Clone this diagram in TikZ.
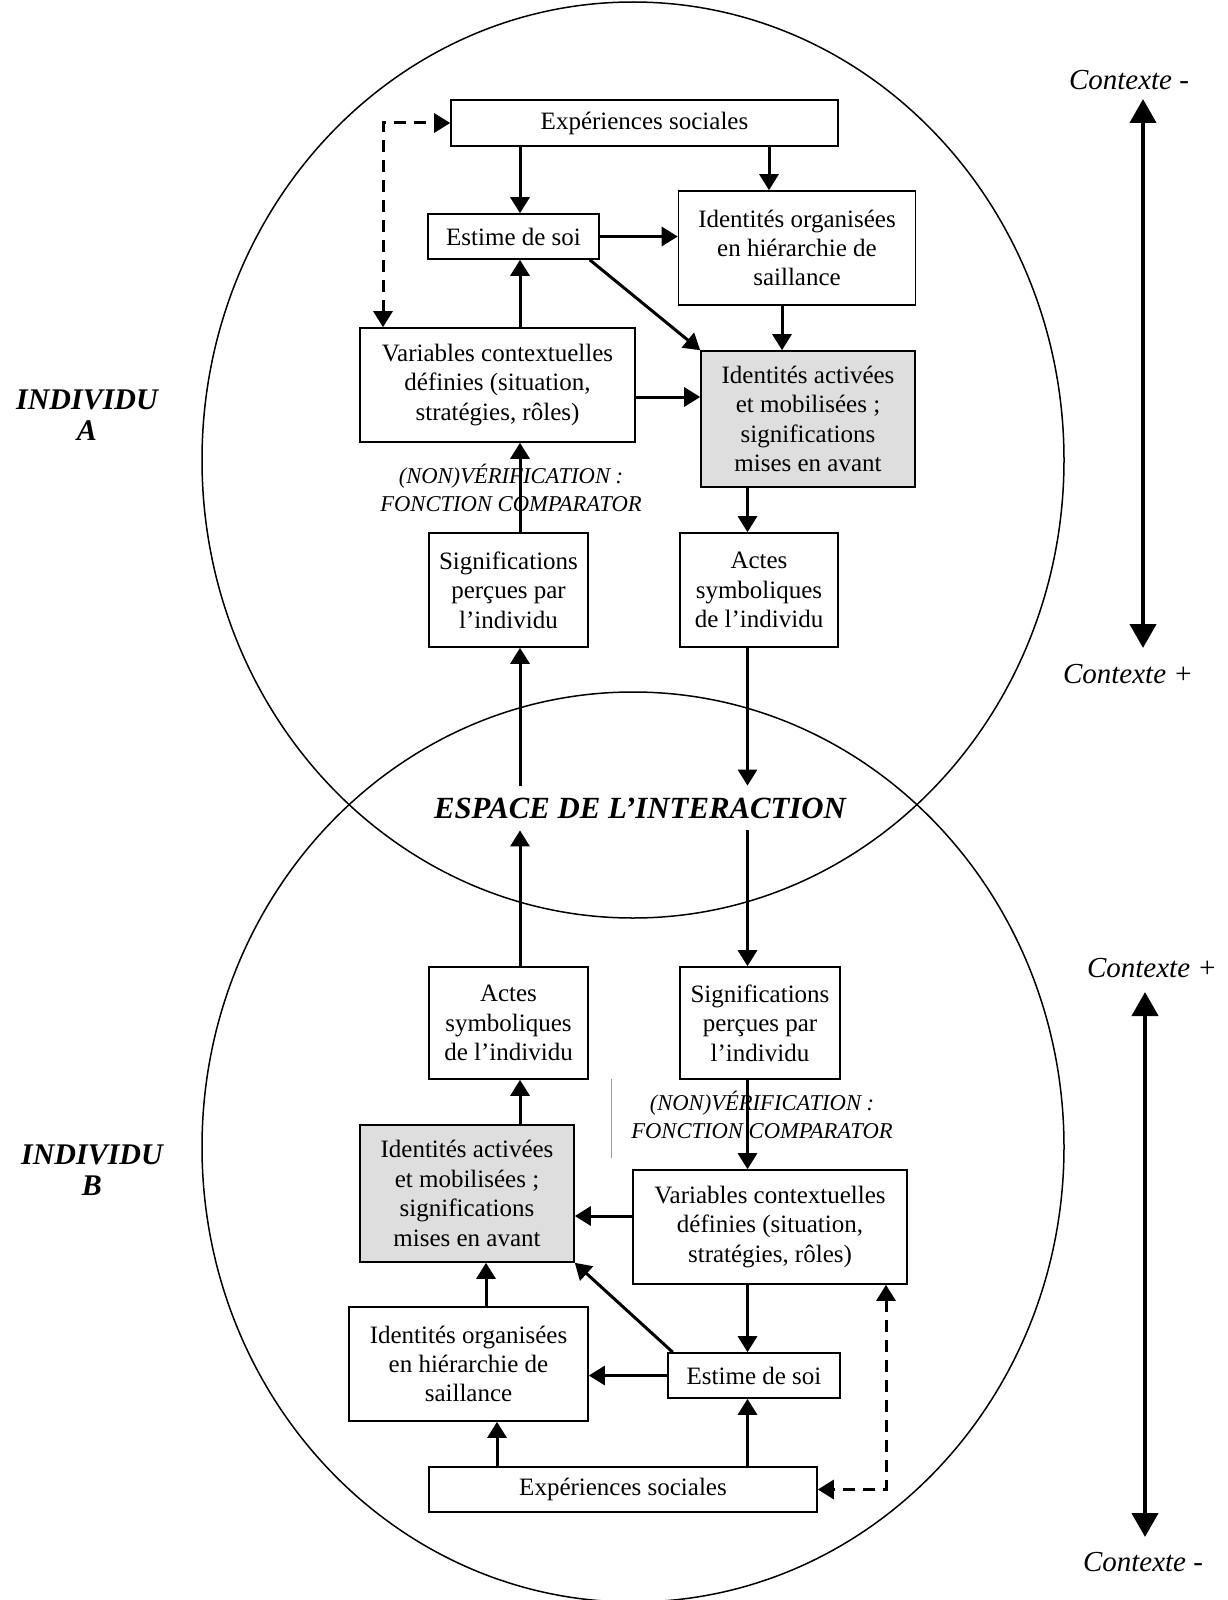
\documentclass[tikz,border=0pt]{standalone}
\usepackage{fontspec}
\setmainfont{Liberation Serif}
\usetikzlibrary{arrows.meta}

\begin{document}
\begin{tikzpicture}[x=0.5pt,y=-0.5pt,
    box/.style={draw,fill=white,line width=0.8pt,align=center,inner sep=0pt,font=\fontsize{12.5}{14.7}\selectfont},
    shaded/.style={box,fill=black!13},
    arr/.style={line width=1.5pt,-{Triangle[length=8pt,width=9.5pt]}},
    dasharr/.style={line width=1.5pt,dash pattern=on 6pt off 4pt,{Triangle[length=8pt,width=9.5pt]}-{Triangle[length=8pt,width=9.5pt]}},
    bigarr/.style={line width=2.2pt,{Triangle[length=12pt,width=13pt]}-{Triangle[length=12pt,width=13pt]}},
    note/.style={font=\fontsize{11.3}{14}\selectfont\itshape,align=center,inner sep=0pt},
    who/.style={font=\fontsize{15}{15.5}\selectfont\bfseries\itshape,align=center,inner sep=0pt},
    ctx/.style={font=\fontsize{14.5}{16}\selectfont\itshape,inner sep=0pt}]
  \useasboundingbox (0,0) rectangle (1227,1600);

  % the two individuals
  \draw[line width=0.75pt] (633,460) ellipse [x radius=215.5pt, y radius=229pt];
  \draw[line width=0.75pt] (633,1147) ellipse [x radius=215.5pt, y radius=227.5pt];

  % individu A
  \node[box,minimum width=193.5pt,minimum height=23pt] (expA) at (644.5,123) {Expériences sociales};
  \node[box,minimum width=85.5pt,minimum height=22.5pt] (estA) at (513.5,236.5) {Estime de soi};
  \node[box,minimum width=118.5pt,minimum height=57pt] (idoA) at (797,248) {Identités organisées\\en hiérarchie de\\saillance};
  \node[box,minimum width=137.5pt,minimum height=57pt] (varA) at (497.5,385) {Variables contextuelles\\définies (situation,\\stratégies, rôles)};
  \node[shaded,minimum width=107pt,minimum height=68pt] (idaA) at (808,419) {Identités activées\\et mobilisées ;\\significations\\mises en avant};
  \node[box,minimum width=79.5pt,minimum height=57pt] (sigA) at (508.5,590) {Significations\\perçues par\\l’individu};
  \node[box,minimum width=79pt,minimum height=57pt] (symA) at (759,590) {Actes\\symboliques\\de l’individu};
  \node[note] (verA) at (511,488) {(NON)VÉRIFICATION :\\FONCTION COMPARATOR};

  \node[who,font=\fontsize{15.4}{16}\selectfont\bfseries\itshape,minimum height=22pt] (esp) at (640,808) {ESPACE DE L’INTERACTION};

  % individu B
  \node[box,minimum width=79.5pt,minimum height=56pt] (symB) at (508.5,1023) {Actes\\symboliques\\de l’individu};
  \node[box,minimum width=80pt,minimum height=56pt] (sigB) at (760,1023) {Significations\\perçues par\\l’individu};
  \node[note] (verB) at (762,1115) {(NON)VÉRIFICATION :\\FONCTION COMPARATOR};
  \node[box,minimum width=137pt,minimum height=57pt] (varB) at (770,1227) {Variables contextuelles\\définies (situation,\\stratégies, rôles)};
  \node[shaded,minimum width=107pt,minimum height=68.5pt] (idaB) at (467,1193.5) {Identités activées\\et mobilisées ;\\significations\\mises en avant};
  \node[box,minimum width=119.5pt,minimum height=57pt] (idoB) at (468.5,1364) {Identités organisées\\en hiérarchie de\\saillance};
  \node[box,minimum width=86pt,minimum height=22.5pt] (estB) at (754,1375.5) {Estime de soi};
  \node[box,minimum width=194pt,minimum height=22.5pt] (expB) at (623,1489.5) {Expériences sociales};
  \draw[black!40,line width=0.3pt] (611,1079) -- (611,1158);

  \node[who] (indA) at (87,415) {INDIVIDU\\A};
  \node[who] (indB) at (92,1170) {INDIVIDU\\B};

  \coordinate (lcol) at (520,0);
  \coordinate (rcol) at (747.5,0);
  \coordinate (c1) at (769,0);
  \coordinate (c2) at (782,0);
  \coordinate (c3) at (486,0);
  \coordinate (c4) at (497,0);
  \coordinate (dl) at (383,0);
  \coordinate (dr) at (886,0);
  \coordinate (r1) at (0,397);
  \coordinate (r2) at (0,1216);

  \draw[arr] (expA.south -| lcol) -- (estA.north -| lcol);
  \draw[arr] (expA.south -| c1) -- (idoA.north -| c1);
  \draw[arr] (estA.east) -- (estA.east -| idoA.west);
  \draw[arr] (estA.-17) -- (idaA.north west);
  \draw[arr] (idoA.south -| c2) -- (idaA.north -| c2);
  \draw[arr] (varA.north -| lcol) -- (estA.south -| lcol);
  \draw[arr] (varA.east |- r1) -- (idaA.west |- r1);
  \draw[arr] (sigA.north -| lcol) -- (varA.south -| lcol);
  \draw[arr] (idaA.south -| rcol) -- (symA.north -| rcol);
  \draw[arr] (symA.south -| rcol) -- (esp.north -| rcol);
  \draw[arr] (esp.north -| lcol) -- (sigA.south -| lcol);
  \draw[arr] (symB.north -| lcol) -- (esp.south -| lcol);
  \draw[arr] (esp.south -| rcol) -- (sigB.north -| rcol);
  \draw[arr] (sigB.south -| rcol) -- (varB.north -| rcol);
  \draw[arr] (idaB.north -| lcol) -- (symB.south -| lcol);
  \draw[arr] (varB.west |- r2) -- (idaB.east |- r2);
  \draw[arr] (varB.south -| rcol) -- (estB.north -| rcol);
  \draw[arr] (estB.west) -- (estB.west -| idoB.east);
  \draw[arr] (estB.164) -- (idaB.south east);
  \draw[arr] (idoB.north -| c3) -- (idaB.south -| c3);
  \draw[arr] (expB.north -| c4) -- (idoB.south -| c4);
  \draw[arr] (expB.north -| rcol) -- (estB.south -| rcol);
  \draw[dasharr] (varA.north -| dl) -- (dl |- expA.west) -- (expA.west);
  \draw[dasharr] (varB.south -| dr) -- (dr |- expB.east) -- (expB.east);

  % context scale
  \coordinate (ua) at (1143,99);
  \coordinate (ub) at (1143,648);
  \coordinate (la) at (1145,992);
  \coordinate (lb) at (1145,1537);
  \draw[bigarr] (ua) -- (ub);
  \draw[bigarr] (la) -- (lb);
  \node[ctx] (ctxA1) at (1129,80) {Contexte -};
  \node[ctx] (ctxA2) at (1128,674) {Contexte +};
  \node[ctx] (ctxB1) at (1152,968) {Contexte +};
  \node[ctx] (ctxB2) at (1143,1562) {Contexte -};
\end{tikzpicture}
\end{document}
